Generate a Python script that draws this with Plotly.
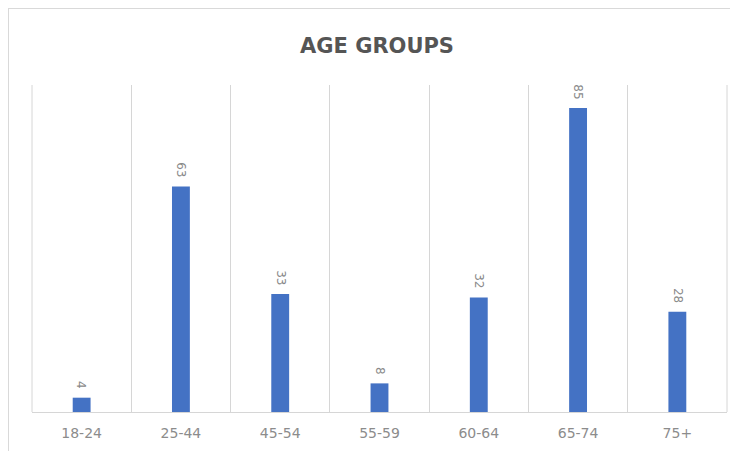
import plotly.graph_objects as go

categories = ["18-24", "25-44", "45-54", "55-59", "60-64", "65-74", "75+"]
values = [4, 63, 33, 8, 32, 85, 28]
title_text = "AGE GROUPS"

# page is offset by the browser's 8px body margin
OFF = 8
W, H = 738 - OFF, 451 - OFF
ml = 32 - OFF
mt = 85 - OFF
mr = W - (727 - OFF)
mb = H - (412 - OFF)
pw = W - ml - mr
ph = H - mt - mb

fig = go.Figure(
    go.Bar(
        x=categories,
        y=values,
        marker=dict(color="#4472C4", line=dict(width=0)),
        hoverinfo="x+y",
    )
)

annotations = [
    dict(
        x=c,
        y=v,
        xref="x",
        yref="y",
        text=str(v),
        showarrow=False,
        textangle=90,
        yanchor="bottom",
        xanchor="center",
        yshift=7,
        font=dict(family="DejaVu Sans", size=12, color="#8a8a8a"),
    )
    for c, v in zip(categories, values)
]

fig.update_layout(
    width=W,
    height=H,
    margin=dict(l=ml, r=mr, t=mt, b=mb),
    paper_bgcolor="white",
    plot_bgcolor="white",
    bargap=0.82,
    showlegend=False,
    annotations=annotations,
    title=dict(
        text=title_text,
        x=(377 - OFF - ml) / pw,
        xref="paper",
        xanchor="center",
        y=1 - (46 - OFF) / H,
        yref="container",
        yanchor="middle",
        font=dict(family="DejaVu Sans", size=21, color="#555555", weight="bold"),
    ),
    xaxis=dict(
        type="category",
        tickson="boundaries",
        showgrid=True,
        gridcolor="#d6d6d6",
        gridwidth=1,
        showline=True,
        linecolor="#d6d6d6",
        linewidth=1,
        ticks="",
        ticklabelstandoff=8,
        tickfont=dict(family="DejaVu Sans", size=14, color="#8c8c8c"),
        range=[-0.5, 6.5],
    ),
    yaxis=dict(
        range=[0, 91.4],
        showgrid=False,
        zeroline=False,
        showticklabels=False,
        ticks="",
    ),
    shapes=[
        dict(
            type="line",
            xref="paper",
            yref="paper",
            x0=-0.2, x1=1.2,
            y0=(H - mb - 0.5) / ph, y1=(H - mb - 0.5) / ph,
            line=dict(color="#d9d9d9", width=1),
            layer="below",
        ),
        dict(
            type="line",
            xref="paper",
            yref="paper",
            x0=(0.5 - ml) / pw, x1=(0.5 - ml) / pw,
            y0=-1, y1=(H - mb - 0.5) / ph,
            line=dict(color="#d9d9d9", width=1),
            layer="below",
        ),
        dict(
            type="line",
            xref="paper",
            yref="paper",
            x0=0, x1=0, y0=0, y1=1,
            line=dict(color="#d6d6d6", width=1),
            layer="below",
        ),
        dict(
            type="line",
            xref="paper",
            yref="paper",
            x0=1, x1=1, y0=0, y1=1,
            line=dict(color="#d6d6d6", width=1),
            layer="below",
        ),
    ],
)

fig.write_html("out.html")
